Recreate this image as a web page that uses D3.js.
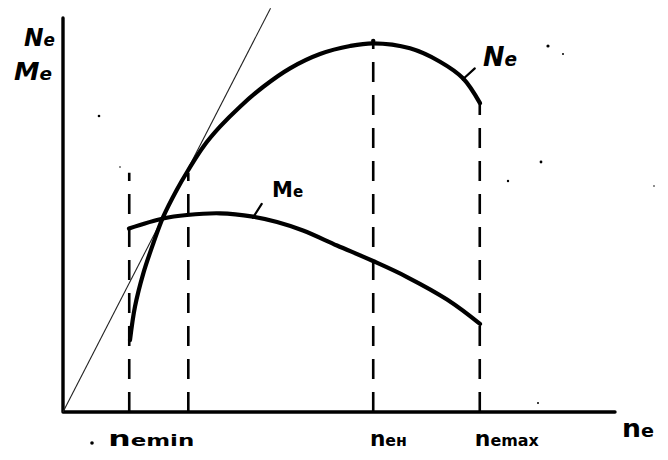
<!DOCTYPE html>
<html>
<head>
<meta charset="utf-8">
<script src="https://cdn.jsdelivr.net/npm/d3@7"></script>
<style>
  html, body { margin: 0; padding: 0; background: #fff; }
  svg { display: block; }
  text { font-family: "DejaVu Sans", "Liberation Sans", sans-serif; fill: #000; }
</style>
</head>
<body>
<svg id="chart" width="668" height="460"></svg>
<script>
// Engine speed characteristic: effective power Ne and torque Me vs crankshaft speed n (relative units)
const nNe    = [12.14, 13.04, 14.55, 16.36, 18.17, 20.60, 22.70, 25.42, 28.44, 32.07, 36.29, 41.12, 46.56, 52.00, 56.16, 62.86, 68.30, 72.46, 75.54];
const neVals = [18.27, 26.73, 35.20, 42.82, 49.57, 56.35, 61.42, 67.34, 72.41, 77.49, 82.56, 87.23, 90.86, 92.89, 93.58, 92.31, 88.91, 84.70, 78.40];

const nMe    = [11.96, 18.12, 22.46, 28.44, 34.42, 38.77, 43.48, 49.64, 56.16, 62.32, 69.57, 75.54];
const meVals = [46.57, 49.11, 50.00, 50.43, 49.57, 48.22, 46.07, 42.26, 38.32, 34.26, 28.55, 22.34];

// Characteristic speeds marked on the n axis
const markSpeeds = [12.0, 22.7, 56.2, 75.5];
const markTops   = [60.7, 60.7, 93.7, 78.9];
const tickMain   = ["n", "n", "n"];
const tickSub    = ["emin", "eн", "emax"];
const tickLabelAt = [8.2, 55.6, 74.6];

// Tangent to Ne drawn from the origin
const tangentEnd = [37.6, 102.5];

const svg = d3.select("#chart");
const x = d3.scaleLinear().domain([0, 100]).range([63, 615]);
const y = d3.scaleLinear().domain([0, 100]).range([412, 18]);

// Axes
svg.append("path")
  .attr("d", `M${x(0)},${y(100)} L${x(0)},${y(0)} L${x(100)},${y(0)}`)
  .attr("fill", "none").attr("stroke", "#000")
  .attr("stroke-width", 3.4).attr("stroke-linejoin", "round").attr("stroke-linecap", "round");

// Tangent line
svg.append("line")
  .attr("x1", x(0)).attr("y1", y(0))
  .attr("x2", x(tangentEnd[0])).attr("y2", y(tangentEnd[1]))
  .attr("stroke", "#222").attr("stroke-width", 1.1);

// Dashed verticals at characteristic speeds
svg.selectAll("line.mark")
  .data(markSpeeds.map((n, i) => ({ n, top: markTops[i] })))
  .join("line")
  .attr("class", "mark")
  .attr("x1", d => x(d.n)).attr("x2", d => x(d.n))
  .attr("y1", y(0)).attr("y2", d => y(d.top))
  .attr("stroke", "#000").attr("stroke-width", 2.6)
  .attr("stroke-dasharray", "20,13");

// Curves
const line = d3.line().x(d => x(d[0])).y(d => y(d[1])).curve(d3.curveCatmullRom.alpha(0.5));

svg.append("path")
  .datum(nNe.map((n, i) => [n, neVals[i]]))
  .attr("d", line)
  .attr("fill", "none").attr("stroke", "#000").attr("stroke-width", 4.2)
  .attr("stroke-linecap", "round");

svg.append("path")
  .datum(nMe.map((n, i) => [n, meVals[i]]))
  .attr("d", line)
  .attr("fill", "none").attr("stroke", "#000").attr("stroke-width", 4.2)
  .attr("stroke-linecap", "round");

// Leader strokes for curve labels
const leaders = [
  [[72.4, 84.4], [74.6, 87.2]],   // Ne
  [[34.4, 49.3], [36.0, 52.8]]    // Me
];
svg.selectAll("line.leader")
  .data(leaders).join("line")
  .attr("class", "leader")
  .attr("x1", d => x(d[0][0])).attr("y1", d => y(d[0][1]))
  .attr("x2", d => x(d[1][0])).attr("y2", d => y(d[1][1]))
  .attr("stroke", "#000").attr("stroke-width", 2.2).attr("stroke-linecap", "round");

// Small mark at the power peak
svg.append("circle").attr("cx", x(56.2)).attr("cy", y(94.2)).attr("r", 2.2).attr("fill", "#000");

// Axis and curve titles
function label(tx, ty, main, sub, size, opts = {}) {
  const t = svg.append("text")
    .attr("x", tx).attr("y", ty)
    .attr("font-size", size)
    .attr("font-weight", "bold")
    .attr("font-style", opts.italic ? "italic" : "normal");
  if (opts.w) t.attr("textLength", opts.w).attr("lengthAdjust", "spacingAndGlyphs");
  t.append("tspan").text(main);
  if (sub) t.append("tspan").attr("font-size", size * 0.72).text(sub);
  return t;
}

label(24, 46, "N", "e", 25, { italic: true, w: 31 });
label(14, 80, "M", "e", 25, { italic: true, w: 38 });
label(483, 66, "N", "e", 26, { italic: true, w: 34 });
label(272, 197, "M", "e", 21);
label(622, 437, "n", "e", 24, { w: 32 });

// Labels under the n axis
const tickText = svg.selectAll("text.tick")
  .data(tickMain.map((s, i) => ({ s, sub: tickSub[i], n: tickLabelAt[i] })))
  .join("text")
  .attr("class", "tick")
  .attr("x", d => x(d.n))
  .attr("y", 446)
  .attr("font-size", 22)
  .attr("font-weight", "bold")
  .attr("textLength", (d, i) => [86, 37, 64][i])
  .attr("lengthAdjust", "spacingAndGlyphs");
tickText.append("tspan").text(d => d.s);
tickText.append("tspan").attr("font-size", 16).text(d => d.sub);

svg.append("circle").attr("cx", 92).attr("cy", 443).attr("r", 1.8).attr("fill", "#000");

// Ink specks on the sheet
const specks = [[548, 46, 1.6], [563, 54, 1.0], [541, 162, 1.4], [508, 181, 1.2], [654, 186, 0.8], [99, 116, 1.3], [538, 403, 1.0], [120, 167, 0.8]];
svg.selectAll("circle.speck").data(specks).join("circle")
  .attr("class", "speck")
  .attr("cx", d => d[0]).attr("cy", d => d[1]).attr("r", d => d[2]).attr("fill", "#000");
</script>
</body>
</html>
